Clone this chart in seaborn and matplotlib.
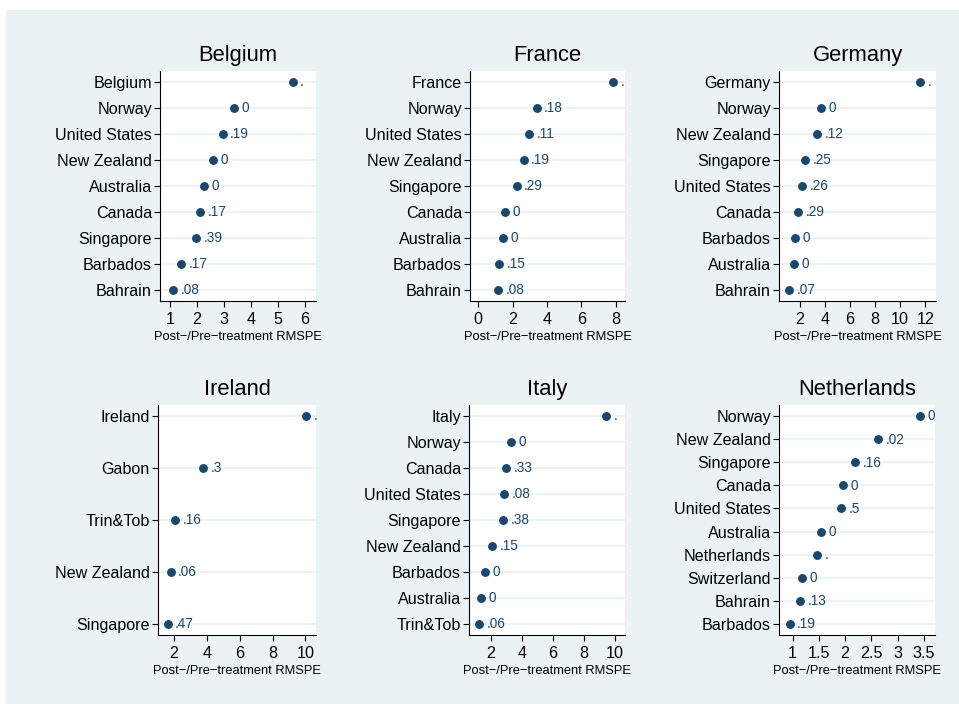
import matplotlib
matplotlib.use("Agg")
import matplotlib.pyplot as plt
import matplotlib.patches as mpatches
import seaborn as sns
import pandas as pd

# Donor pools per treated country, ordered top to bottom by RMSPE ratio
belgium_units = ['Belgium', 'Norway', 'United States', 'New Zealand', 'Australia',
                 'Canada', 'Singapore', 'Barbados', 'Bahrain']
belgium_ratio = [5.54, 3.35, 2.95, 2.60, 2.25, 2.11, 1.96, 1.42, 1.12]
belgium_weight = ['.', '0', '.19', '0', '0', '.17', '.39', '.17', '.08']

france_units = ['France', 'Norway', 'United States', 'New Zealand', 'Singapore',
                'Canada', 'Australia', 'Barbados', 'Bahrain']
france_ratio = [7.84, 3.39, 2.96, 2.64, 2.23, 1.55, 1.46, 1.21, 1.17]
france_weight = ['.', '.18', '.11', '.19', '.29', '0', '0', '.15', '.08']

germany_units = ['Germany', 'Norway', 'New Zealand', 'Singapore', 'United States',
                 'Canada', 'Barbados', 'Australia', 'Bahrain']
germany_ratio = [11.58, 3.68, 3.36, 2.45, 2.21, 1.87, 1.60, 1.55, 1.15]
germany_weight = ['.', '0', '.12', '.25', '.26', '.29', '0', '0', '.07']

ireland_units = ['Ireland', 'Gabon', 'Trin&Tob', 'New Zealand', 'Singapore']
ireland_ratio = [10.05, 3.77, 2.04, 1.78, 1.59]
ireland_weight = ['.', '.3', '.16', '.06', '.47']

italy_units = ['Italy', 'Norway', 'Canada', 'United States', 'Singapore',
               'New Zealand', 'Barbados', 'Australia', 'Trin&Tob']
italy_ratio = [9.42, 3.33, 2.97, 2.88, 2.79, 2.10, 1.61, 1.40, 1.23]
italy_weight = ['.', '0', '.33', '.08', '.38', '.15', '0', '0', '.06']

netherlands_units = ['Norway', 'New Zealand', 'Singapore', 'Canada', 'United States',
                     'Australia', 'Netherlands', 'Switzerland', 'Bahrain', 'Barbados']
netherlands_ratio = [3.43, 2.63, 2.19, 1.96, 1.92, 1.54, 1.46, 1.18, 1.14, 0.94]
netherlands_weight = ['0', '.02', '.16', '0', '.5', '0', '.', '0', '.13', '.19']

titles = ['Belgium', 'France', 'Germany', 'Ireland', 'Italy', 'Netherlands']
units = [belgium_units, france_units, germany_units,
         ireland_units, italy_units, netherlands_units]
ratios = [belgium_ratio, france_ratio, germany_ratio,
          ireland_ratio, italy_ratio, netherlands_ratio]
weights = [belgium_weight, france_weight, germany_weight,
           ireland_weight, italy_weight, netherlands_weight]
xticks = [[1, 2, 3, 4, 5, 6], [0, 2, 4, 6, 8], [2, 4, 6, 8, 10, 12],
          [2, 4, 6, 8, 10], [2, 4, 6, 8, 10], [1, 1.5, 2, 2.5, 3, 3.5]]
xticklabels = [None, None, None, None, None, ['1', '1.5', '2', '2.5', '3', '3.5']]
xlims = [(0.63, 6.4), (-0.48, 8.53), (0.35, 12.85),
         (1.01, 10.65), (0.6, 10.65), (0.74, 3.71)]
xlabel = 'Post\u2212/Pre\u2212treatment RMSPE'

# Panel boxes in pixels: left, top, right, bottom
boxes = [(160, 71, 316, 301), (470, 71, 625, 301), (779, 71, 936, 301),
         (158, 405, 316, 635), (469, 405, 625, 635), (779, 405, 935, 635)]

navy = '#1a476f'
bg = '#eaf2f3'
W, H = 959, 704

sns.set_style('white')
plt.rcParams['font.family'] = ['Liberation Sans', 'DejaVu Sans']
plt.rcParams['text.color'] = 'black'
plt.rcParams['axes.labelcolor'] = 'black'
plt.rcParams['xtick.color'] = 'black'
plt.rcParams['ytick.color'] = 'black'

fig = plt.figure(figsize=(W / 100, H / 100), dpi=100)
fig.patch.set_facecolor('white')
fig.patches.append(mpatches.Rectangle((6 / W, 0), 1 - 6 / W, 1 - 10 / H,
                                      transform=fig.transFigure, facecolor=bg,
                                      edgecolor='none', zorder=-5))

for k in range(6):
    l, t, r, b = boxes[k]
    ax = fig.add_axes([l / W, 1 - b / H, (r - l) / W, (b - t) / H])
    ax.set_facecolor('white')
    df = pd.DataFrame({'unit': units[k], 'ratio': ratios[k]})
    n = len(units[k])

    sns.stripplot(data=df, x='ratio', y='unit', order=units[k], jitter=False,
                  color=navy, size=6.4, linewidth=0, ax=ax, zorder=3)

    # horizontal guide lines at each unit
    for i in range(n):
        ax.axhline(i, color=bg, lw=1.3, zorder=1)

    for i, (v, w) in enumerate(zip(ratios[k], weights[k])):
        ax.annotate(w, (v, i), xytext=(5.4, 0.8), textcoords='offset points',
                    ha='left', va='center_baseline', fontsize=9.8, color=navy,
                    zorder=4)

    spacing = (b - t - 22) / (n - 1)
    pad = 11 / spacing
    ax.set_ylim(n - 1 + pad, -pad)
    ax.set_xlim(*xlims[k])
    ax.set_xticks(xticks[k])
    if xticklabels[k] is not None:
        ax.set_xticklabels(xticklabels[k])

    ax.set_title(titles[k], fontsize=15.8, pad=7, color='black')
    ax.set_xlabel(xlabel, fontsize=9.3, labelpad=3)
    ax.set_ylabel('')
    ax.grid(False)

    for side in ['top', 'right']:
        ax.spines[side].set_visible(False)
    for side in ['left', 'bottom']:
        ax.spines[side].set_color('black')
        ax.spines[side].set_linewidth(0.8)

    ax.tick_params(axis='y', direction='out', length=4.3, width=0.8,
                   pad=1.5, labelsize=11.6, color='black', left=True)
    ax.tick_params(axis='x', direction='out', length=4.3, width=0.8,
                   pad=3.5, labelsize=11.6, color='black', bottom=True)

fig.savefig('out.png', dpi=100, facecolor='white')
